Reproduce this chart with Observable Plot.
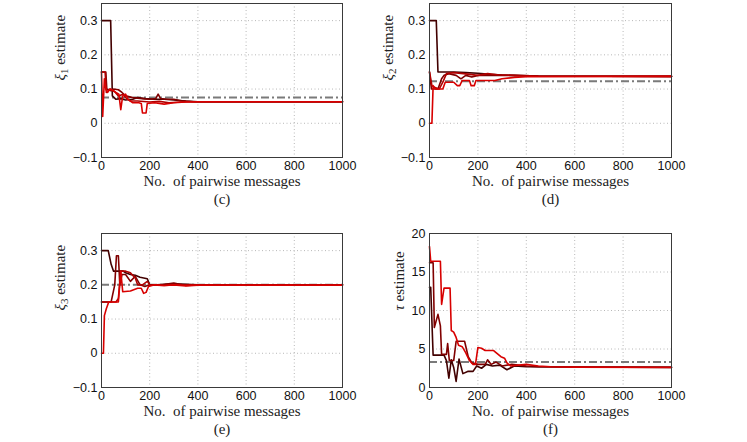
<!DOCTYPE html>
<html><head><meta charset="utf-8">
<script src="https://cdn.jsdelivr.net/npm/d3@7"></script>
<script src="https://cdn.jsdelivr.net/npm/@observablehq/plot@0.6"></script>
<style>
body{margin:0;background:#fff}
#chart{position:relative;width:747px;height:442px;overflow:hidden;background:#fff}
#chart svg{position:absolute;background:transparent}
</style>
</head><body><div id="chart"></div>
<script>
// ---- tick values and labels ----
const xTicks = [0, 200, 400, 600, 800, 1000];
const xTickLabels = ["0", "200", "400", "600", "800", "1000"];
const xiTicks = [-0.1, 0, 0.1, 0.2, 0.3];
const xiTickLabels = ["−0.1", "0", "0.1", "0.2", "0.3"];
const tauTicks = [0, 5, 10, 15, 20];
const tauTickLabels = ["0", "5", "10", "15", "20"];
const xLabel = "No.  of pairwise messages";
const seriesColors = ["#420000", "#800000", "#b00000", "#d80000"];

// ---- (c) xi_1 estimate: [messages, estimate] ----
const xi1True = 0.075;
const xi1_a = [[0,0.3],[38,0.3],[45,0.08],[60,0.07],[80,0.072],[100,0.068],[130,0.07],[150,0.075],[180,0.072],[220,0.07],[260,0.07],[300,0.068],[350,0.065],[400,0.063],[1000,0.063]];
const xi1_b = [[0,0.15],[18,0.15],[22,0.1],[40,0.095],[50,0.1],[70,0.098],[85,0.09],[100,0.08],[130,0.075],[170,0.072],[200,0.07],[225,0.072],[235,0.085],[245,0.072],[270,0.07],[300,0.07],[330,0.066],[380,0.063],[1000,0.063]];
const xi1_c = [[0,0.15],[15,0.15],[20,0.09],[35,0.1],[55,0.092],[70,0.08],[90,0.085],[100,0.075],[120,0.065],[150,0.065],[200,0.062],[240,0.064],[280,0.06],[330,0.062],[400,0.063],[1000,0.063]];
const xi1_d = [[0,0.15],[5,0.02],[12,0.13],[18,0.1],[25,0.09],[35,0.1],[50,0.095],[60,0.09],[72,0.085],[80,0.04],[88,0.08],[100,0.085],[110,0.07],[130,0.06],[155,0.06],[165,0.058],[170,0.03],[185,0.03],[190,0.058],[220,0.06],[260,0.056],[300,0.06],[350,0.062],[400,0.063],[1000,0.063]];

// ---- (d) xi_2 estimate ----
const xi2True = 0.123;
const xi2_a = [[0,0.3],[28,0.3],[35,0.15],[70,0.15],[100,0.15],[150,0.148],[200,0.146],[250,0.143],[300,0.141],[350,0.14],[450,0.138],[1000,0.137]];
const xi2_b = [[0,0.15],[8,0.1],[35,0.1],[50,0.13],[60,0.14],[80,0.145],[110,0.14],[130,0.13],[150,0.14],[175,0.135],[200,0.14],[230,0.14],[270,0.14],[320,0.14],[400,0.138],[1000,0.137]];
const xi2_c = [[0,0.15],[10,0.11],[20,0.105],[40,0.1],[55,0.12],[70,0.145],[100,0.148],[140,0.145],[200,0.14],[240,0.145],[280,0.142],[350,0.14],[450,0.138],[1000,0.137]];
const xi2_d = [[0,0],[10,0],[15,0.11],[25,0.1],[55,0.1],[65,0.12],[100,0.12],[115,0.11],[125,0.11],[135,0.125],[165,0.125],[172,0.11],[185,0.11],[192,0.125],[220,0.125],[270,0.125],[300,0.13],[350,0.134],[400,0.136],[1000,0.137]];

// ---- (e) xi_3 estimate ----
const xi3True = 0.2;
const xi3_a = [[0,0.3],[28,0.3],[40,0.26],[50,0.24],[70,0.24],[90,0.24],[100,0.235],[120,0.23],[140,0.228],[160,0.222],[190,0.218],[200,0.2],[230,0.2],[300,0.203],[400,0.2],[1000,0.2]];
const xi3_b = [[0,0.15],[40,0.15],[55,0.2],[62,0.285],[70,0.285],[76,0.2],[85,0.23],[100,0.23],[120,0.21],[140,0.225],[160,0.2],[180,0.195],[200,0.2],[250,0.2],[300,0.205],[350,0.198],[400,0.2],[1000,0.2]];
const xi3_c = [[0,0.15],[35,0.15],[60,0.15],[70,0.16],[80,0.24],[100,0.24],[120,0.235],[140,0.22],[150,0.2],[170,0.2],[190,0.21],[200,0.2],[260,0.198],[300,0.2],[1000,0.2]];
const xi3_d = [[0,0],[8,0],[12,0.11],[20,0.13],[30,0.15],[70,0.15],[80,0.24],[88,0.18],[120,0.182],[150,0.19],[165,0.19],[175,0.175],[185,0.178],[195,0.195],[220,0.2],[260,0.198],[300,0.2],[350,0.197],[400,0.199],[1000,0.199]];

// ---- (f) tau estimate ----
const tauTrue = 3.3;
const tau_a = [[0,13],[5,13],[15,4.2],[60,4.2],[70,3.5],[80,1.2],[90,3.6],[100,2.6],[110,0.8],[122,3.7],[138,1.8],[160,2.1],[180,2.1],[195,2.8],[215,2.5],[235,3.0],[260,2.8],[290,2.9],[320,2.3],[350,2.8],[400,2.7],[1000,2.6]];
const tau_b = [[0,16.2],[15,16.2],[20,7.8],[35,9.5],[45,8],[50,4.3],[70,4.3],[75,5.7],[82,3.5],[100,3.5],[110,6],[145,6],[160,4],[175,3.2],[200,3],[230,3],[240,3.6],[255,3],[275,3.3],[300,2.8],[340,3],[400,2.8],[450,2.7],[1000,2.65]];
const tau_d = [[0,18.3],[5,16.4],[45,16.4],[50,10.8],[60,12.9],[85,12.9],[90,7.4],[100,7.2],[110,6.5],[120,5.5],[135,5.3],[150,4.5],[165,3.5],[180,3],[190,3],[200,5.2],[215,5.1],[230,4.8],[265,4.8],[280,4.4],[295,4],[310,3.8],[320,3.2],[335,2.8],[400,3.0],[450,2.8],[500,2.7],[600,2.65],[1000,2.6]];

const chart = document.getElementById("chart");
const serif = "'Liberation Serif', 'DejaVu Serif', serif";
const sans = "'Liberation Sans', Arial, sans-serif";

function panel(cfg) {
  const {sx, sy, sw, sh, L, R, T, B, yDomain, yTicks, yTickLabels, series, colors, truth, ylabelMain, ylabelSub, ylabelDx, tag} = cfg;
  const ylabelText = ylabelMain + (ylabelSub || "") + " estimate";
  const marks = [
    Plot.gridX(xTicks, {stroke: "#b8b8b8", strokeOpacity: 1, strokeDasharray: "1,2.5"}),
    Plot.gridY(yTicks, {stroke: "#b8b8b8", strokeOpacity: 1, strokeDasharray: "1,2.5"}),
    Plot.ruleY([truth], {stroke: "#7a7a7a", strokeWidth: 2, strokeDasharray: "8,3,2,3"}),
  ];
  series.forEach((s, i) => {
    marks.push(Plot.line(s, {x: d => d[0], y: d => d[1], stroke: colors[i], strokeWidth: 1.6}));
  });
  marks.push(
    Plot.axisX(xTicks, {tickSize: 0, tickPadding: 4, label: null, fontSize: 12.5, fill: "#111",
      tickFormat: d => xTickLabels[xTicks.indexOf(d)]}),
    Plot.axisY(yTicks, {tickSize: 0, tickPadding: 4, label: null, fontSize: 12.5, fill: "#111",
      tickFormat: d => yTickLabels[yTicks.indexOf(d)]}),
    Plot.frame({stroke: "#3a3a3a", strokeWidth: 1}),
    Plot.text([xLabel], {text: d => d, frameAnchor: "bottom", dy: 28, fill: "#222", fontFamily: serif, fontSize: 15}),
    Plot.text([tag], {text: d => d, frameAnchor: "bottom", dy: 46, fill: "#222", fontFamily: serif, fontSize: 15}),
    Plot.text([ylabelText], {text: d => d, frameAnchor: "left", dx: ylabelDx, rotate: -90, fill: "#222", fontFamily: serif, fontSize: 15})
  );
  const svg = Plot.plot({
    width: sw, height: sh,
    marginLeft: L - sx, marginRight: sx + sw - R, marginTop: T - sy, marginBottom: sy + sh - B,
    x: {domain: [0, 1000]},
    y: {domain: yDomain},
    style: {fontFamily: sans, fontSize: "12.5px", background: "transparent", overflow: "visible"},
    marks
  });
  svg.style.left = sx + "px";
  svg.style.top = sy + "px";
  const ns = "http://www.w3.org/2000/svg";
  svg.querySelectorAll("text").forEach(t => {
    const content = t.textContent;
    if (content === xLabel || content === tag || content === ylabelText) {
      t.style.fontFamily = serif;
      t.style.fontSize = "15px";
    }
    if (content === ylabelText) {
      // rebuild with italic greek letter and a real subscript
      while (t.firstChild) t.removeChild(t.firstChild);
      const a = document.createElementNS(ns, "tspan");
      a.textContent = ylabelMain; a.setAttribute("font-style", "italic");
      t.appendChild(a);
      if (ylabelSub) {
        const b = document.createElementNS(ns, "tspan");
        b.textContent = ylabelSub; b.style.fontSize = "11px"; b.setAttribute("dy", "3");
        t.appendChild(b);
      }
      const c = document.createElementNS(ns, "tspan");
      c.textContent = " estimate";
      if (ylabelSub) c.setAttribute("dy", "-3");
      t.appendChild(c);
    }
  });
  chart.appendChild(svg);
}

const xiDomain = [-0.1, 0.35];
panel({sx: 0, sy: 0, sw: 373, sh: 221, L: 101, R: 342, T: 3, B: 157, yDomain: xiDomain, yTicks: xiTicks, yTickLabels: xiTickLabels,
  series: [xi1_a, xi1_b, xi1_c, xi1_d], colors: seriesColors, truth: xi1True, ylabelMain: "ξ", ylabelSub: "1", ylabelDx: -41, tag: "(c)"});
panel({sx: 373, sy: 0, sw: 374, sh: 221, L: 429, R: 671, T: 3, B: 157, yDomain: xiDomain, yTicks: xiTicks, yTickLabels: xiTickLabels,
  series: [xi2_a, xi2_b, xi2_c, xi2_d], colors: seriesColors, truth: xi2True, ylabelMain: "ξ", ylabelSub: "2", ylabelDx: -41, tag: "(d)"});
panel({sx: 0, sy: 221, sw: 373, sh: 221, L: 101, R: 342, T: 233, B: 387, yDomain: xiDomain, yTicks: xiTicks, yTickLabels: xiTickLabels,
  series: [xi3_a, xi3_b, xi3_c, xi3_d], colors: seriesColors, truth: xi3True, ylabelMain: "ξ", ylabelSub: "3", ylabelDx: -41, tag: "(e)"});
panel({sx: 373, sy: 221, sw: 374, sh: 221, L: 429, R: 671, T: 233, B: 387, yDomain: [0, 20], yTicks: tauTicks, yTickLabels: tauTickLabels,
  series: [tau_a, tau_b, tau_d], colors: [seriesColors[0], seriesColors[1], seriesColors[3]], truth: tauTrue, ylabelMain: "τ", ylabelSub: "", ylabelDx: -30, tag: "(f)"});
</script>
</body></html>
